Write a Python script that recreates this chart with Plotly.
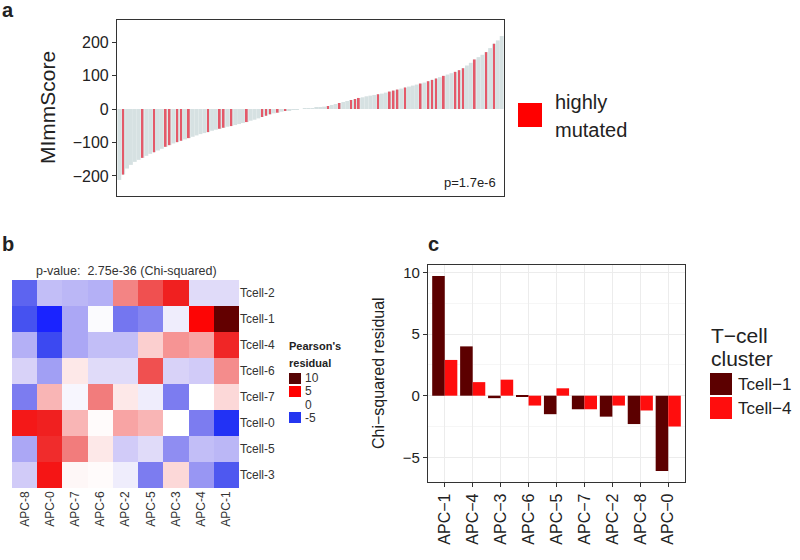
import plotly.graph_objects as go

W, H = 800, 560
FONT = "Liberation Sans, Arial, sans-serif"

# ---- panel a: MImmScore per sample (sorted), highly mutated samples flagged
mimm_scores = [
    -212, -196, -178, -167, -158, -152, -146, -140, -134, -129,
    -124, -119, -113, -108, -103, -99, -95, -91, -87, -83,
    -79, -75, -72, -69, -65, -62, -59, -56, -53, -51,
    -48, -45, -42, -39, -35, -32, -28, -24, -20, -16,
    -13, -11, -8, -6, -4, -2, -1, 0, 1, 2,
    3, 4, 5, 7, 9, 12, 15, 18, 21, 24,
    27, 30, 33, 35, 38, 40, 42, 44, 46, 49,
    52, 55, 58, 61, 64, 67, 70, 73, 76, 79,
    83, 87, 91, 95, 99, 103, 107, 111, 116, 122,
    130, 138, 148, 155, 162, 170, 182, 195, 205, 218,
]
mutated_idx = [1, 6, 9, 12, 13, 15, 16, 18, 23, 26, 27, 29, 33, 37, 38, 39, 41, 43,
               54, 57, 60, 61, 62, 67, 70, 71, 72, 74, 78, 80, 81, 82, 84, 87, 88, 89,
               92, 95, 97]
score_ticks = [-200, -100, 0, 100, 200]

# ---- panel b: Pearson's residuals heatmap
apc_cols = ["APC-8", "APC-0", "APC-7", "APC-6", "APC-2", "APC-5", "APC-3", "APC-4", "APC-1"]
tcell_rows = ["Tcell-2", "Tcell-1", "Tcell-4", "Tcell-6", "Tcell-7", "Tcell-0", "Tcell-5", "Tcell-3"]
pearson_res = [
    [-2.0, -0.8, -0.9, -1.0, 1.5, 2.2, 3.0, -0.4, -0.4],
    [-2.3, -6.1, -1.1, -0.05, -1.7, -1.5, -0.2, 4.0, 9.7],
    [-1.0, -2.5, -1.1, -0.8, -0.8, 0.6, 1.3, 1.1, 2.9],
    [-0.5, -1.2, 0.3, -0.4, -0.4, 2.2, -0.5, -0.6, 1.4],
    [-1.6, 0.9, -0.1, 1.6, 0.3, -0.2, -1.6, 0.0, 0.5],
    [3.3, 3.0, 0.9, 0.05, 1.1, 0.9, 0.0, -1.6, -3.0],
    [-1.1, 2.8, 1.6, 0.3, -0.6, -0.4, -1.4, -0.8, -0.9],
    [-0.6, 3.4, 0.1, 0.05, -0.2, -1.6, 0.5, -1.3, -2.2],
]
legend_b_vals = ["10", "5", "0", "-5"]

# ---- panel c: chi-squared residuals for two T-cell clusters
apc_c = ["APC\u22121", "APC\u22124", "APC\u22123", "APC\u22126", "APC\u22125",
         "APC\u22127", "APC\u22122", "APC\u22128", "APC\u22120"]
tcell1_res = [9.7, 4.0, -0.2, -0.05, -1.5, -1.1, -1.7, -2.3, -6.1]
tcell4_res = [2.9, 1.1, 1.3, -0.8, 0.6, -1.1, -0.8, -1.2, -2.5]
chi_ticks = [-5, 0, 5, 10]

ZMIN, ZMAX = -6.2, 10.0
stops = [(-6.2, "#1a22ff"), (-3.0, "#2232f5"), (-2.3, "#4652f0"), (-1.6, "#7c7cf0"),
         (-1.0, "#b4b0f6"), (-0.5, "#d8d2f8"), (0.0, "#ffffff"), (0.5, "#fcd8d8"),
         (1.1, "#f8a4a4"), (1.6, "#f27c7c"), (2.2, "#f05050"), (3.0, "#f02020"),
         (4.2, "#ff0000"), (10.0, "#5a0000")]
colorscale = [[(v - ZMIN) / (ZMAX - ZMIN), c] for v, c in stops]


def px(x):
    return x / W


def py(y):
    return 1 - y / H


fig = go.Figure()

# panel a
fig.add_trace(go.Bar(
    x=list(range(len(mimm_scores))), y=mimm_scores, width=1,
    marker=dict(color="#d6e1e2", line=dict(width=0)),
    xaxis="x", yaxis="y",
))
fig.add_trace(go.Bar(
    x=mutated_idx, y=[mimm_scores[i] for i in mutated_idx], width=0.45,
    marker=dict(color="#e8384c", line=dict(width=0)), opacity=0.8,
    xaxis="x", yaxis="y",
))

# panel b
fig.add_trace(go.Heatmap(
    z=pearson_res, x=apc_cols, y=tcell_rows,
    colorscale=colorscale, zmin=ZMIN, zmax=ZMAX, showscale=False,
    xaxis="x2", yaxis="y2",
))

# panel c
fig.add_trace(go.Bar(
    x=apc_c, y=tcell1_res, offset=-0.45, width=0.45,
    marker=dict(color="#5c0000", line=dict(width=0)),
    xaxis="x3", yaxis="y3",
))
fig.add_trace(go.Bar(
    x=apc_c, y=tcell4_res, offset=0, width=0.45,
    marker=dict(color="#ff0d0d", line=dict(width=0)),
    xaxis="x3", yaxis="y3",
))

box = dict(showline=True, mirror=True, linecolor="#333333", linewidth=1.2, zeroline=False)

fig.update_layout(
    width=W, height=H, margin=dict(l=0, r=0, t=0, b=0),
    paper_bgcolor="white", plot_bgcolor="white",
    barmode="overlay", showlegend=False,
    font=dict(family=FONT, color="#222222"),
    xaxis=dict(domain=[px(117), px(504)], range=[-0.6, len(mimm_scores) - 0.4],
               showticklabels=False, ticks="", showgrid=False, anchor="y", **box),
    yaxis=dict(domain=[py(196), py(20)], range=[-260, 266], tickvals=score_ticks,
               ticks="outside", ticklen=4, tickcolor="#333333", tickfont=dict(size=16),
               showgrid=False, anchor="x", **box),
    xaxis2=dict(domain=[px(12), px(239)], anchor="y2", tickangle=-90, ticks="",
                tickfont=dict(size=12, color="#333333"), showgrid=False, zeroline=False),
    yaxis2=dict(domain=[py(488), py(280)], anchor="x2", side="right", autorange="reversed",
                ticks="", tickfont=dict(size=12, color="#333333"), showgrid=False, zeroline=False),
    xaxis3=dict(domain=[px(428), px(685)], anchor="y3", range=[-0.6, len(apc_c) - 0.4],
                tickangle=-90, ticks="outside", ticklen=4, tickcolor="#333333",
                tickfont=dict(size=16), showgrid=True, gridcolor="#ececec", **box),
    yaxis3=dict(domain=[py(482), py(265)], anchor="x3", range=[-7.0, 10.6], tickvals=chi_ticks,
                ticks="outside", ticklen=4, tickcolor="#333333", tickfont=dict(size=15),
                showgrid=True, gridcolor="#ececec",
                minor=dict(tickvals=[-2.5, 2.5, 7.5], showgrid=True, gridcolor="#f6f6f6"),
                **box),
)

ann = []


def text(x, y, s, size, xanchor="center", bold=False, angle=0, color="#222222"):
    ann.append(dict(
        x=px(x), y=py(y), xref="paper", yref="paper", text=f"<b>{s}</b>" if bold else s,
        showarrow=False, xanchor=xanchor, yanchor="middle", textangle=angle,
        font=dict(size=size, family=FONT, color=color),
    ))


# panel labels
text(8, 10, "a", 20, bold=True)
text(8, 244, "b", 20, bold=True)
text(433, 244, "c", 20, bold=True)

# panel a texts
text(48, 108, "MImmScore", 21, angle=-90)
text(498, 183, "p=1.7e-6", 13, xanchor="right")
text(553, 102, "highly", 20, xanchor="left")
text(553, 130, "mutated", 20, xanchor="left")

# panel b texts
text(126, 271, "p-value:  2.75e-36 (Chi-squared)", 12.5, color="#333333")
text(287, 346, "Pearson's", 11, xanchor="left", bold=True)
text(287, 363, "residual", 11, xanchor="left", bold=True)
for lab, yy in zip(legend_b_vals, [378, 391, 405, 418]):
    text(303, yy, lab, 12, xanchor="left", color="#333333")

# panel c texts
text(378, 373, "Chi\u2212squared residual", 16, angle=-90)
text(709, 335, "T\u2212cell", 21, xanchor="left")
text(709, 358, "cluster", 21, xanchor="left")
text(736, 384, "Tcell\u22121", 17, xanchor="left")
text(736, 408, "Tcell\u22124", 17, xanchor="left")

fig.update_layout(annotations=ann)


def square(x0, y0, x1, y1, color):
    return dict(type="rect", xref="paper", yref="paper", x0=px(x0), x1=px(x1),
                y0=py(y1), y1=py(y0), fillcolor=color, line=dict(width=0))


fig.update_layout(shapes=[
    square(518, 103, 542, 127, "#ff0000"),
    square(289, 373, 301, 384, "#560404"),
    square(289, 386, 301, 397, "#ff0000"),
    square(289, 412, 301, 423, "#2436f0"),
    square(710, 373, 732, 395, "#5c0000"),
    square(710, 397, 732, 419, "#ff0d0d"),
])

# drop the default 8px body margin so the figure sits at the window's top-left corner
fig.write_html("out.html", config={"displayModeBar": False},
               post_script="document.body.style.margin='0px';")
